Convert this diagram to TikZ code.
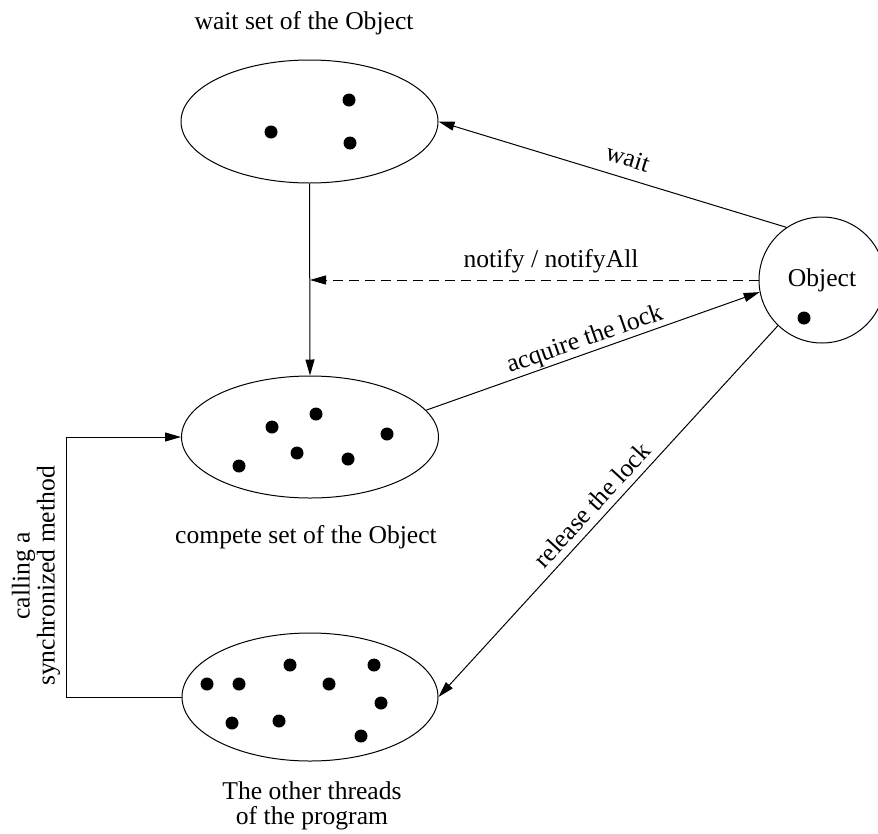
\documentclass[tikz,border=0pt]{standalone}
\usepackage{fontspec}
\setmainfont{Liberation Serif}
\usetikzlibrary{arrows.meta,shapes.geometric}

\tikzset{
  txt/.style={font=\fontsize{25.6pt}{25pt}\selectfont, inner sep=0pt},
  setbox/.style={draw, ellipse, inner sep=0pt, line width=1pt},
  objbox/.style={draw, circle, minimum size=126pt, inner sep=0pt, line width=1pt,
                 font=\fontsize{25.6pt}{25pt}\selectfont},
  link/.style={line width=1pt, -{Triangle[length=16pt,width=9pt]}},
  thread/.style={fill=black}
}

\begin{document}
\begin{tikzpicture}[x=1pt,y=-1pt]
  \useasboundingbox (0,0) rectangle (878,833);

  % the three thread sets and the object
  \node[setbox, minimum width=257pt, minimum height=123pt] (wait) at (309.5,121.5) {};
  \node[setbox, minimum width=257pt, minimum height=122pt] (compete) at (310,437) {};
  \node[setbox, minimum width=256pt, minimum height=128pt] (others) at (310,697) {};
  \node[objbox] (obj) at (822,280) {Object};

  % threads inside each set
  \foreach \p in {(349,100),(271,132),(350,143)}
    \fill[thread] \p circle[radius=6.5pt];
  \foreach \p in {(272,427),(316,414),(387,434),(297,453),(348,459),(239,466)}
    \fill[thread] \p circle[radius=6.5pt];
  \foreach \p in {(207,684),(239,684),(290,665),(329,684),(374,665),(381,703),(232,723),(279,721),(361,736)}
    \fill[thread] \p circle[radius=6.5pt];
  \fill[thread] (804,318) circle[radius=6.5pt];

  % set captions
  \node[txt, anchor=base] (waitcap) at (304,29) {wait set of the Object};
  \node[txt, anchor=base] (competecap) at (306,543) {compete set of the Object};
  \node[txt, align=center] (otherscap) at (312,806) {The other threads\\of the program};

  % transitions
  \draw[link] (obj.124.9) -- (wait.east);
  \draw[link] (wait.south) -- (compete.north);
  \coordinate (notifyend) at (310,280);
  \draw[link, dash pattern=on 10pt off 6pt] (obj.west) -- (notifyend);
  \draw[link] (compete.13.1) -- (obj.191.8);
  \draw[link] (obj.226.9) -- (others.east);
  \coordinate (bend) at (66,697);
  \draw[link] (others.west) -- (bend) |- (compete.west);

  % transition labels
  \node[txt, rotate=-17.3] (waitlbl) at (628,158) {wait};
  \node[txt, anchor=base] (notifylbl) at (551,267) {notify / notifyAll};
  \node[txt, rotate=19.3] (acqlbl) at (585,340) {acquire the lock};
  \node[txt, rotate=47.4] (rellbl) at (592,505) {release the lock};
  \node[txt, rotate=90, align=center] (calllbl) at (36,576) {calling a\\synchronized method};
\end{tikzpicture}
\end{document}
